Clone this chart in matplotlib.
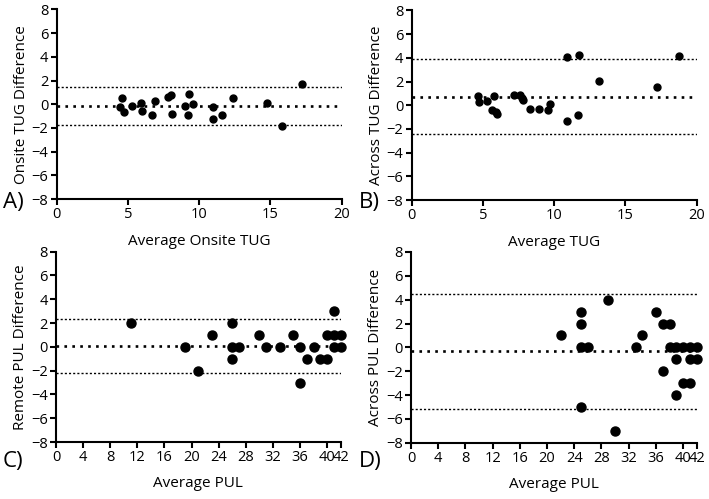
import numpy as np
import matplotlib
matplotlib.use("Agg")
import matplotlib.pyplot as plt

plt.rcParams['font.family'] = ['Open Sans', 'DejaVu Sans']

# A) onsite TUG
a_x = [4.44, 4.56, 4.75, 5.31, 5.89, 6.01, 6.71, 6.90, 7.79, 8.0, 8.07, 9.0, 9.19,
       9.31, 9.59, 10.95, 10.95, 11.6, 12.37, 14.78, 15.79, 17.22]
a_y = [-0.22, 0.56, -0.65, -0.14, 0.11, -0.53, -0.93, 0.28, 0.62, 0.76, -0.82, -0.14,
       -0.93, 0.87, 0.06, -0.22, -1.24, -0.93, 0.56, 0.08, -1.83, 1.69]
a_lines = [1.46, -0.14, -1.74]

# B) across TUG
b_x = [4.68, 4.75, 5.26, 5.75, 5.66, 5.9, 5.95, 7.2, 7.62, 7.74, 7.81, 8.32, 8.93,
       9.54, 9.7, 10.92, 10.92, 11.72, 11.69, 13.14, 17.19, 18.78]
b_y = [0.79, 0.28, 0.39, 0.79, -0.42, -0.55, -0.7, 0.87, 0.9, 0.62, 0.45, -0.31, -0.31,
       -0.42, 0.08, 4.06, -1.33, 4.28, -0.82, 2.08, 1.58, 4.2]
b_lines = [3.89, 0.73, -2.43]

# C) remote PUL
c_x = [11, 19, 21, 23, 26, 26, 26, 27, 30, 31, 33, 35, 36, 36, 37, 38, 39, 40, 40,
       41, 41, 41, 42, 42]
c_y = [2, 0, -2, 1, 2, 0, -1, 0, 1, 0, 0, 1, 0, -3, -1, 0, -1, -1, 1,
       3, 1, 0, 1, 0]
c_lines = [2.35, 0.05, -2.22]

# D) across PUL
d_x = [22, 25, 25, 25, 25, 26, 29, 30, 33, 34, 36, 37, 37, 38, 38, 39, 39, 39,
       40, 40, 41, 41, 41, 42, 42]
d_y = [1, 3, 2, 0, -5, 0, 4, -7, 0, 1, 3, 2, -2, 2, 0, 0, -1, -4,
       0, -3, 0, -1, -3, 0, -1]
d_lines = [4.47, -0.34, -5.2]

fig = plt.figure(figsize=(7.09, 4.99), dpi=100)

panels = [
    ([0.080, 0.601, 0.402, 0.380], a_x, a_y, a_lines, 'Average Onsite TUG', 'Onsite TUG Difference',
     (0, 20), [0, 5, 10, 15, 20], 5, 'A)', (0.004, 0.573), 8),
    ([0.5807, 0.599, 0.402, 0.380], b_x, b_y, b_lines, 'Average TUG', 'Across TUG Difference',
     (0, 20), [0, 5, 10, 15, 20], 5, 'B)', (0.506, 0.573), 8),
    ([0.079, 0.1142, 0.4015, 0.3814], c_x, c_y, c_lines, 'Average PUL', 'Remote PUL Difference',
     (0, 42), [0, 4, 8, 12, 16, 20, 24, 28, 32, 36, 40, 42], 6.5, 'C)', (0.004, 0.055), 8),
    ([0.5797, 0.1128, 0.403, 0.3822], d_x, d_y, d_lines, 'Average PUL', 'Across PUL Difference',
     (0, 42), [0, 4, 8, 12, 16, 20, 24, 28, 32, 36, 40, 42], 6.5, 'D)', (0.506, 0.055), 8),
]

for pos, xs, ys, lines, xl, yl, xlim, xt, ms, tag, tagpos, lpad in panels:
    ax = fig.add_axes(pos)
    ax.axhline(lines[0], color='black', lw=1.0, ls=(0, (1.5, 1.5)), zorder=1)
    ax.axhline(lines[1], color='black', lw=1.9, ls=(0, (1, 2)), zorder=1)
    ax.axhline(lines[2], color='black', lw=1.0, ls=(0, (1.5, 1.5)), zorder=1)
    ax.plot(xs, ys, 'o', color='black', ms=ms, zorder=3, clip_on=False)
    ax.set_xlim(*xlim)
    ax.set_ylim(-8, 8)
    ax.set_xticks(xt)
    ax.set_yticks(np.arange(-8, 9, 2))
    for s in ['top', 'right']:
        ax.spines[s].set_visible(False)
    for s in ['left', 'bottom']:
        ax.spines[s].set_linewidth(1.5)
    ax.tick_params(direction='out', length=4, width=1.5, labelsize=10.5, pad=2)
    ax.set_xlabel(xl, fontsize=11, labelpad=lpad)
    ax.set_ylabel(yl, fontsize=11, labelpad=2)
    fig.text(tagpos[0], tagpos[1], tag, fontsize=16, ha='left', va='bottom')

fig.savefig('out.png', dpi=100)
